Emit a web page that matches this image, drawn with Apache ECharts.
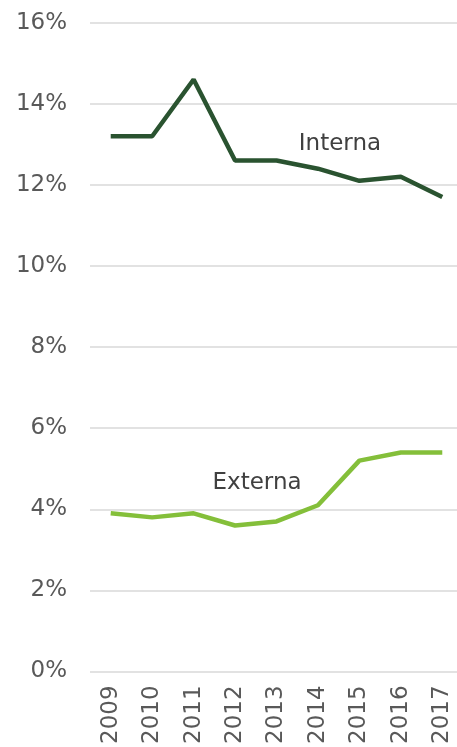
<!DOCTYPE html>
<html>
<head>
<meta charset="utf-8">
<script src="https://cdn.jsdelivr.net/npm/echarts@6/dist/echarts.min.js"></script>
<style>
html,body{margin:0;padding:0;background:#fff;overflow:hidden;width:457px;height:747px;}
#c{width:463px;height:747px;}
</style>
</head>
<body>
<div id="c"></div>
<script>
var categories = ['2009','2010','2011','2012','2013','2014','2015','2016','2017'];
var interna = [13.2, 13.2, 14.6, 12.6, 12.6, 12.4, 12.1, 12.2, 11.7];
var externa = [3.9, 3.8, 3.9, 3.6, 3.7, 4.1, 5.2, 5.4, 5.4];
var yTicks = [0, 2, 4, 6, 8, 10, 12, 14, 16];
var seriesNames = ['Interna', 'Externa'];

var chart = echarts.init(document.getElementById('c'), null, {renderer: 'canvas'});
var font = 'DejaVu Sans, Verdana, sans-serif';
chart.setOption({
  animation: false,
  backgroundColor: '#ffffff',
  grid: {left: 90, top: 22.7, right: 0, height: 649},
  xAxis: {
    type: 'category',
    data: categories,
    boundaryGap: true,
    axisLine: {show: false},
    axisTick: {show: false},
    axisLabel: {rotate: 90, margin: 14, color: '#595959', fontSize: 23, fontFamily: font}
  },
  yAxis: {
    type: 'value',
    min: yTicks[0],
    max: yTicks[yTicks.length - 1],
    interval: 2,
    axisLine: {show: false},
    axisTick: {show: false},
    splitLine: {lineStyle: {color: '#d9d9d9', width: 1.5}},
    axisLabel: {margin: 23, color: '#595959', fontSize: 23, fontFamily: font,
      formatter: function (v) { return v + '%'; }}
  },
  series: [
    {
      name: seriesNames[0], type: 'line', data: interna, symbol: 'none',
      lineStyle: {color: '#2a5330', width: 4.5},
      markPoint: {
        symbol: 'circle', symbolSize: 0,
        data: [{coord: ['2014', 13.0]}],
        label: {show: true, formatter: seriesNames[0], offset: [22, 0], color: '#404040', fontSize: 23, fontFamily: font}
      }
    },
    {
      name: seriesNames[1], type: 'line', data: externa, symbol: 'none',
      lineStyle: {color: '#84bf3a', width: 4.5},
      markPoint: {
        symbol: 'circle', symbolSize: 0,
        data: [{coord: ['2012', 4.65]}],
        label: {show: true, formatter: seriesNames[1], offset: [22, 0], color: '#404040', fontSize: 23, fontFamily: font}
      }
    }
  ]
});
</script>
</body>
</html>
